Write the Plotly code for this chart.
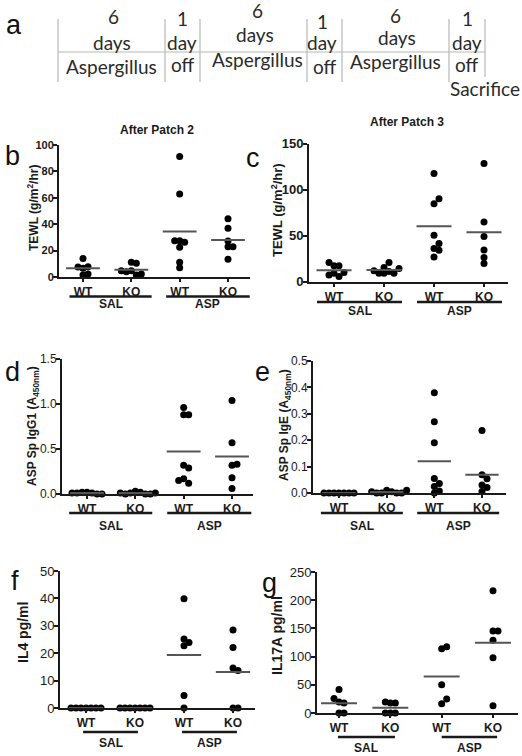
import numpy as np
import plotly.graph_objects as go

W, H = 522, 756
FONT = "Liberation Sans"
INK = "#1a1a1a"
MEAN_CLR = "#555555"

# ---------------- data ----------------
categories = ["WT", "KO", "WT", "KO"]
treatments = ["SAL", "ASP"]

# b: TEWL after patch 2
tewl2_wt_sal = [6.6, 1.5, 14.0, 2.3, 7.8, 7.5]
tewl2_ko_sal = [4.8, 1.5, 11.1, 4.0, 2.3, 10.4, 4.8]
tewl2_wt_asp = [27.5, 7.1, 26.3, 91.2, 62.9, 22.5, 11.1, 27.5]
tewl2_ko_asp = [23.0, 44.2, 36.9, 13.4, 23.0, 27.3]

# c: TEWL after patch 3
tewl3_wt_sal = [9.0, 17.0, 5.4, 17.0, 7.2, 20.6, 9.8]
tewl3_ko_sal = [15.2, 10.8, 9.0, 20.6, 9.0, 9.0, 11.6, 14.0]
tewl3_wt_asp = [35.8, 84.6, 50.2, 26.7, 117.5, 41.2, 90.0, 34.0]
tewl3_ko_asp = [19.5, 128.3, 64.7, 48.8, 34.3, 26.0]

# d: ASP specific IgG1
igg1_wt_sal = [0.02, 0.01, 0.02, 0.0, 0.01, 0.0, 0.01]
igg1_ko_sal = [0.03, 0.02, 0.01, 0.0, 0.0, 0.0, 0.01, 0.01]
igg1_wt_asp = [0.17, 0.32, 0.96, 0.12, 0.88, 0.29, 0.15, 0.88]
igg1_ko_asp = [0.32, 1.04, 0.57, 0.18, 0.06, 0.33]

# e: ASP specific IgE
ige_wt_sal = [0.0, 0.0, 0.0, 0.0, 0.0, 0.0, 0.0]
ige_ko_sal = [0.01, 0.005, 0.0, 0.0, 0.0, 0.0, 0.005, 0.01]
ige_wt_asp = [0.025, 0.055, 0.38, 0.27, 0.19, 0.0, 0.036, 0.008]
ige_ko_asp = [0.03, 0.069, 0.237, 0.006, 0.054, 0.021]

# f: IL4
il4_wt_sal = [0.0, 0.0, 0.0, 0.0, 0.0, 0.0, 0.0]
il4_ko_sal = [0.0, 0.0, 0.0, 0.0, 0.0, 0.0, 0.0]
il4_wt_asp = [25.2, 39.9, 22.7, 4.6, 0.0, 23.9]
il4_ko_asp = [14.6, 0.0, 28.5, 22.1, 13.7, 0.0]

# g: IL17A
il17_wt_sal = [19.6, 0.0, 41.6, 17.8, 0.0, 25.5]
il17_ko_sal = [17.8, 0.0, 17.8, 0.0, 19.6, 0.0]
il17_wt_asp = [16.6, 114.0, 25.0, 49.9, 117.6]
il17_ko_asp = [145.5, 216.7, 128.9, 98.0, 13.0, 145.5]

# panel a timeline text
timeline_num = ["6", "1", "6", "1", "6", "1"]
timeline_unit = ["days", "day", "days", "day", "days", "day"]
timeline_what = ["Aspergillus", "off", "Aspergillus", "off", "Aspergillus", "off"]
timeline_end = "Sacrifice"

# ---------------- layout of panels (pixels) ----------------
panels = [
    dict(letter="b", data=[tewl2_wt_sal, tewl2_ko_sal, tewl2_wt_asp, tewl2_ko_asp],
         ymax=100, dtick=20, fmt="d", tf=dict(size=11, weight="bold"),
         xa0=59, xa1=250, ytop=145, ybot=277, c0=83, c3=228,
         sal=(-0.28, 1.42), asp=(1.72, 3.45), uline=296.5, gtext=304,
         ytitle="TEWL (g/m<sup>2</sup>/hr)", ytx=33, yty=208, yts=12,
         lpos=(12, 156), title=("After Patch 2", 157, 130)),
    dict(letter="c", data=[tewl3_wt_sal, tewl3_ko_sal, tewl3_wt_asp, tewl3_ko_asp],
         ymax=150, dtick=50, fmt="d", tf=dict(size=13, weight="bold"),
         xa0=309, xa1=508, ytop=143.5, ybot=281.5, c0=334, c3=484,
         sal=(-0.34, 1.36), asp=(1.66, 3.36), uline=302, gtext=311,
         ytitle="TEWL (g/m<sup>2</sup>/hr)", ytx=277, yty=210, yts=13,
         lpos=(253, 158), title=("After Patch 3", 407, 122)),
    dict(letter="d", data=[igg1_wt_sal, igg1_ko_sal, igg1_wt_asp, igg1_ko_asp],
         ymax=1.5, dtick=0.5, fmt=".1f", tf=dict(size=12),
         xa0=62, xa1=253, ytop=359, ybot=494, c0=87, c3=232,
         sal=(-0.37, 1.35), asp=(1.66, 3.4), uline=513, gtext=526,
         ytitle="ASP Sp IgG1 (A<sub>450nm</sub>)", ytx=33, yty=426, yts=12,
         lpos=(12, 372), title=None),
    dict(letter="e", data=[ige_wt_sal, ige_ko_sal, ige_wt_asp, ige_ko_asp],
         ymax=0.5, dtick=0.1, fmt=".1f", tf=dict(size=12),
         xa0=313, xa1=506, ytop=361, ybot=493, c0=339, c3=482,
         sal=(-0.38, 1.34), asp=(1.64, 3.36), uline=513, gtext=526,
         ytitle="ASP Sp IgE (A<sub>450nm</sub>)", ytx=285, yty=425, yts=12,
         lpos=(262, 372), title=None),
    dict(letter="f", data=[il4_wt_sal, il4_ko_sal, il4_wt_asp, il4_ko_asp],
         ymax=50, dtick=10, fmt="d", tf=dict(size=13),
         xa0=60, xa1=255, ytop=571, ybot=708, c0=86, c3=233,
         sal=(-0.06, 1.06), asp=(1.96, 3.08), uline=732, gtext=743,
         ytitle="IL4 pg/ml", ytx=23, yty=633, yts=14,
         lpos=(15, 581), title=None),
    dict(letter="g", data=[il17_wt_sal, il17_ko_sal, il17_wt_asp, il17_ko_asp],
         ymax=250, dtick=50, fmt="d", tf=dict(size=13),
         xa0=317, xa1=518, ytop=572, ybot=713, c0=339, c3=493,
         sal=(-0.02, 1.09), asp=(2.0, 3.08), uline=737, gtext=748,
         ytitle="IL17A pg/ml", ytx=277, yty=636, yts=14,
         lpos=(269, 583), title=None),
]


def fx(px):
    return px / W


def fy(py):
    return 1 - py / H


def swarm(vals, ppu_y, ppu_x, d=5.0):
    placed, offs = [], []
    cands = [0]
    for j in range(1, 25):
        cands += [j, -j]
    for v in vals:
        yp = v * ppu_y
        xp = 0.0
        for c in cands:
            xp = c * d
            if all((xp - a) ** 2 + (yp - b) ** 2 >= d * d - 1e-6 for a, b in placed):
                break
        placed.append((xp, yp))
        offs.append(xp / ppu_x)
    return np.array(offs)


fig = go.Figure()
annotations = []
shapes = []
layout_axes = {}

for n, p in enumerate(panels, start=1):
    xs = "x" if n == 1 else f"x{n}"
    ys = "y" if n == 1 else f"y{n}"
    s = (p["c3"] - p["c0"]) / 3.0
    xr = [-(p["c0"] - p["xa0"]) / s, 3 + (p["xa1"] - p["c3"]) / s]
    ppu_y = (p["ybot"] - p["ytop"]) / p["ymax"]

    for i, vals in enumerate(p["data"]):
        vals = np.asarray(vals, dtype=float)
        off = swarm(vals, ppu_y, s)
        fig.add_trace(go.Scatter(
            x=i + off, y=vals, mode="markers", xaxis=xs, yaxis=ys,
            marker=dict(size=7, color="black"), cliponaxis=False,
            showlegend=False, hoverinfo="y"))
        m = float(np.mean(vals))
        fig.add_trace(go.Scatter(
            x=[i - 0.35, i + 0.35], y=[m, m], mode="lines", xaxis=xs, yaxis=ys,
            line=dict(color=MEAN_CLR, width=2), cliponaxis=False,
            showlegend=False, hoverinfo="skip"))

    layout_axes["xaxis" if n == 1 else f"xaxis{n}"] = dict(
        domain=[fx(p["xa0"]), fx(p["xa1"])], range=xr, anchor=ys,
        tickvals=[0, 1, 2, 3], ticktext=categories,
        ticks="outside", ticklen=3, tickwidth=1.5, tickcolor=INK,
        showline=True, linecolor=INK, linewidth=2,
        showgrid=False, zeroline=False,
        tickfont=dict(family=FONT, size=12, color=INK, weight="bold"))
    layout_axes["yaxis" if n == 1 else f"yaxis{n}"] = dict(
        domain=[fy(p["ybot"]), fy(p["ytop"])], range=[0, p["ymax"]], anchor=xs,
        tick0=0, dtick=p["dtick"], tickformat=p["fmt"],
        ticks="outside", ticklen=4, tickwidth=1.5, tickcolor=INK,
        ticklabelstandoff=-3,
        showline=True, linecolor=INK, linewidth=2,
        showgrid=False, zeroline=False,
        tickfont=dict(family=FONT, color=INK, **p["tf"]))

    # treatment group underlines and labels
    for (x0, x1), name in zip([p["sal"], p["asp"]], treatments):
        shapes.append(dict(type="line", xref=xs, yref="paper",
                           x0=x0, x1=x1, y0=fy(p["uline"]), y1=fy(p["uline"]),
                           line=dict(color=INK, width=2.5)))
        annotations.append(dict(text=name, xref=xs, yref="paper",
                                x=(x0 + x1) / 2, y=fy(p["gtext"]),
                                xanchor="center", yanchor="middle", showarrow=False,
                                font=dict(family=FONT, size=12, color=INK, weight="bold")))
    # y-axis title
    annotations.append(dict(text=p["ytitle"], xref="paper", yref="paper",
                            x=fx(p["ytx"]), y=fy(p["yty"]), textangle=-90,
                            xanchor="center", yanchor="middle", showarrow=False,
                            font=dict(family=FONT, size=p["yts"], color=INK, weight="bold")))
    # panel letter
    annotations.append(dict(text=p["letter"], xref="paper", yref="paper",
                            x=fx(p["lpos"][0]), y=fy(p["lpos"][1]),
                            xanchor="center", yanchor="middle", showarrow=False,
                            font=dict(family=FONT, size=27, color="#111111")))
    if p["title"]:
        t, tx, ty = p["title"]
        annotations.append(dict(text=t, xref="paper", yref="paper",
                                x=fx(tx), y=fy(ty), xanchor="center", yanchor="middle",
                                showarrow=False,
                                font=dict(family=FONT, size=12, color=INK, weight="bold")))

# ---------------- panel a: timeline ----------------
TL_FONT = "Lato"
TL_CLR = "#2a2a2a"
GRID_CLR = "#b8b8b8"
vlines = [58, 165, 200, 307, 342, 449, 485]
vbottom = [82, 82, 82, 82, 82, 82, 77]
for xv, yb in zip(vlines, vbottom):
    shapes.append(dict(type="line", xref="paper", yref="paper",
                       x0=fx(xv), x1=fx(xv), y0=fy(19), y1=fy(yb),
                       line=dict(color=GRID_CLR, width=1.2)))
shapes.append(dict(type="line", xref="paper", yref="paper",
                   x0=fx(vlines[0]), x1=fx(vlines[-1]), y0=fy(52), y1=fy(52),
                   line=dict(color=GRID_CLR, width=1.2)))

num_pos = [(113, 17), (182, 18), (257, 10), (322, 21), (395, 15), (467, 19)]
unit_pos = [(112, 43), (182, 43), (255, 34), (322, 43), (397, 37), (467, 43)]
what_pos = [(111, 67), (183, 65), (257, 60), (325, 67), (395, 62), (467, 65)]
for texts, poss in [(timeline_num, num_pos), (timeline_unit, unit_pos), (timeline_what, what_pos)]:
    for t, (tx, ty) in zip(texts, poss):
        annotations.append(dict(text=t, xref="paper", yref="paper", x=fx(tx), y=fy(ty),
                                xanchor="center", yanchor="middle", showarrow=False,
                                font=dict(family=TL_FONT, size=19, color=TL_CLR)))
annotations.append(dict(text=timeline_end, xref="paper", yref="paper", x=fx(485), y=fy(88),
                        xanchor="center", yanchor="middle", showarrow=False,
                        font=dict(family=TL_FONT, size=19, color=TL_CLR)))
annotations.append(dict(text="a", xref="paper", yref="paper", x=fx(14), y=fy(25),
                        xanchor="center", yanchor="middle", showarrow=False,
                        font=dict(family=FONT, size=27, color="#111111")))

fig.update_layout(
    width=W, height=H, margin=dict(l=0, r=0, t=0, b=0),
    paper_bgcolor="white", plot_bgcolor="white", template="none",
    showlegend=False, annotations=annotations, shapes=shapes,
    font=dict(family=FONT, color=INK),
    **layout_axes)

fig.write_html("out.html", config={"displayModeBar": False},
               post_script="document.body.style.margin='0px';document.body.style.padding='0px';")
